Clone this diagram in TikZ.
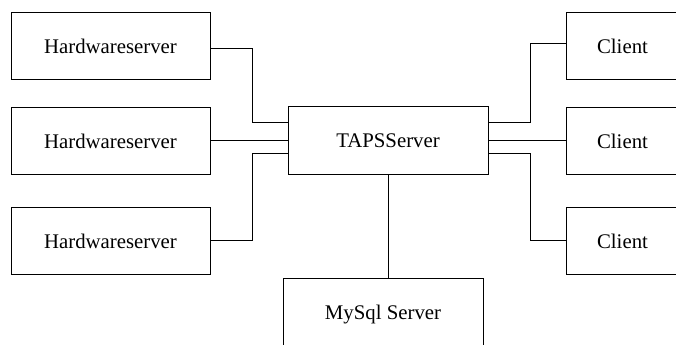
\documentclass[tikz,border=0pt]{standalone}
\usepackage{fontspec}
\setmainfont{Liberation Serif}
\usetikzlibrary{calc}
\begin{document}
\begin{tikzpicture}[x=0.75pt,y=-0.75pt,line width=0.75pt,
  box/.style={draw,rectangle,inner sep=0pt,outer sep=0pt,minimum width=149.25pt,minimum height=50.25pt,font=\fontsize{15.6}{18}\selectfont},
  clientbox/.style={box,minimum width=84.75pt},
  conn/.style={draw}]
\useasboundingbox (0,0) rectangle (676,345);
\clip (0,0) rectangle (676,345);
\node[box] (h1) at (110.5,46.5) {Hardwareserver};
\node[box] (h2) at (110.5,141) {Hardwareserver};
\node[box] (h3) at (110.5,241) {Hardwareserver};
\node[box,minimum width=150pt,minimum height=51pt] (taps) at (388,141) {TAPSServer};
\node[clientbox] (c1) at (622.5,46.5) {Client};
\node[clientbox] (c2) at (622.5,141) {Client};
\node[clientbox] (c3) at (622.5,241) {Client};
\node[box,minimum width=150pt,minimum height=54pt] (sql) at (383,315) {MySql Server};
\draw ($(h1.east)+(0,2.5)$) -- ++(42,0) |- ($(taps.west)+(0,-18)$);
\draw (h2.east) -- (taps.west |- h2.east);
\draw (h3.east) -- ++(42,0) |- ($(taps.west)+(0,13)$);
\draw ($(taps.east)+(0,-18)$) -- ++(42,0) |- ($(c1.west)+(0,-3)$);
\draw (taps.east |- c2.west) -- (c2.west);
\draw ($(taps.east)+(0,13)$) -- ++(42,0) |- (c3.west);
\draw (taps.south) -- (taps.south |- sql.north);
\end{tikzpicture}
\end{document}
